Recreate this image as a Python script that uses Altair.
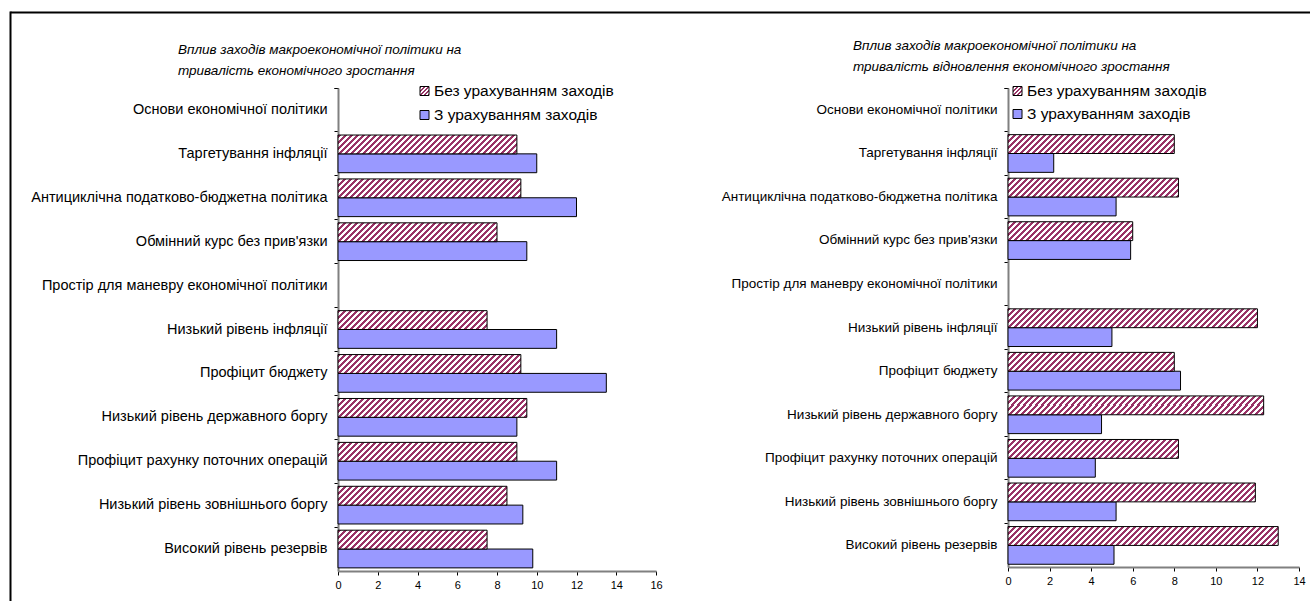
import altair as alt
import pandas as pd

# ---- data -------------------------------------------------------------
categories = [
    "Основи економічної політики",
    "Таргетування інфляції",
    "Антициклічна податково-бюджетна політика",
    "Обмінний курс без прив'язки",
    "Простір для маневру економічної політики",
    "Низький рівень інфляції",
    "Профіцит бюджету",
    "Низький рівень державного боргу",
    "Профіцит рахунку поточних операцій",
    "Низький рівень зовнішнього боргу",
    "Високий рівень резервів",
]
series = ["Без урахуванням заходів", "З урахуванням заходів"]

growth_without = [None, 9.0, 9.2, 8.0, None, 7.5, 9.2, 9.5, 9.0, 8.5, 7.5]
growth_with = [None, 10.0, 12.0, 9.5, None, 11.0, 13.5, 9.0, 11.0, 9.3, 9.8]
recovery_without = [None, 8.0, 8.2, 6.0, None, 12.0, 8.0, 12.3, 8.2, 11.9, 13.0]
recovery_with = [None, 2.2, 5.2, 5.9, None, 5.0, 8.3, 4.5, 4.2, 5.2, 5.1]

growth_title = ["Вплив заходів макроекономічної політики на",
                "тривалість економічного зростання"]
recovery_title = ["Вплив заходів макроекономічної політики на",
                  "тривалість відновлення економічного зростання"]
growth_ticks = list(range(0, 17, 2))
recovery_ticks = list(range(0, 15, 2))

FONT = "Liberation Sans"
INK = "#993366"
BLUE = "#9999FF"
PAD_OUTER = 0.165


def hatch(w, h, period=6.0):
    """Linear gradient with hard stops drawing '/' stripes at 45 degrees
    over a w x h rectangle (gradient is in bounding-box units)."""
    k = (w + h) / (w * w + h * h)
    n = (w + h) / period
    stops = []
    i = 0
    while i < n:
        a = i / n
        b = min((i + 0.5) / n, 1.0)
        c = min((i + 1) / n, 1.0)
        stops += [
            {"offset": a, "color": INK},
            {"offset": b, "color": INK},
            {"offset": b, "color": "#ffffff"},
            {"offset": c, "color": "#ffffff"},
        ]
        i += 1
    return {"gradient": "linear", "x1": 0, "y1": 0,
            "x2": w * k, "y2": h * k, "stops": stops}


def text_layer(txt, x, y, size, italic=False):
    return alt.Chart(alt.Data(values=[{}])).mark_text(
        text=txt, align="left", baseline="middle", font=FONT,
        fontSize=size, fontStyle="italic" if italic else "normal",
        color="#000000",
    ).encode(x=alt.value(x), y=alt.value(y))


def panel(without, with_, xmax, ticks, width, height, title_lines,
          title_x, title_y, leg_x, leg_y, leg_gap, label_size, legend_size,
          title_size, frame=False):
    rows = []
    for cat, a, b in zip(categories, without, with_):
        if a is not None:
            rows.append({"category": cat, "series": series[0], "value": a})
        if b is not None:
            rows.append({"category": cat, "series": series[1], "value": b})
    df = pd.DataFrame(rows)

    step = height / len(categories)
    bar_h = step / (2 + 2 * PAD_OUTER)
    sx = width / xmax

    y = alt.Y(
        "category:N", sort=categories,
        scale=alt.Scale(domain=categories, paddingInner=0, paddingOuter=0),
        axis=alt.Axis(
            title=None, bandPosition=0, tickExtra=True, tickSize=4,
            tickColor="#000000", tickWidth=1, domainColor="#808080",
            domainWidth=2, labelFont=FONT, labelFontSize=label_size,
            labelColor="#000000", labelPadding=7, labelLimit=500,
        ),
    )
    yo = alt.YOffset(
        "series:N",
        scale=alt.Scale(domain=series, paddingInner=0, paddingOuter=PAD_OUTER),
    )
    x = alt.X(
        "value:Q", scale=alt.Scale(domain=[0, xmax], nice=False, zero=True),
        axis=alt.Axis(
            title=None, values=ticks, tickSize=4, tickColor="#000000",
            domainColor="#808080", domainWidth=2, grid=False,
            labelFont=FONT, labelFontSize=11, labelColor="#000000",
            labelPadding=4, labelFlush=False,
        ),
    )
    base = alt.Chart(df).encode(x=x, y=y, yOffset=yo)

    layers = [
        base.transform_filter(alt.FieldEqualPredicate(field="series", equal=series[1]))
        .mark_bar(fill=BLUE, stroke="#000000", strokeWidth=1)
    ]
    for cat, a in zip(categories, without):
        if a is None:
            continue
        layers.append(
            base.transform_filter(alt.FieldEqualPredicate(field="series", equal=series[0]))
            .transform_filter(alt.FieldEqualPredicate(field="category", equal=cat))
            .mark_bar(fill=hatch(a * sx, bar_h), stroke="#000000", strokeWidth=1)
        )

    # titles
    layers.append(text_layer(title_lines[0], title_x, title_y, title_size, True))
    layers.append(text_layer(title_lines[1], title_x, title_y + 21, title_size, True))

    # legend
    sq = 9
    for j, (yy, fill) in enumerate([(leg_y, hatch(sq, sq, 4.0)),
                                     (leg_y + leg_gap, BLUE)]):
        layers.append(
            alt.Chart(alt.Data(values=[{}])).mark_rect(
                fill=fill, stroke="#000000", strokeWidth=1
            ).encode(x=alt.value(leg_x), x2=alt.value(leg_x + sq),
                     y=alt.value(yy - sq / 2), y2=alt.value(yy + sq / 2))
        )
        layers.append(text_layer(series[j], leg_x + 14, yy, legend_size))

    if frame:
        # page frame around both diagrams
        layers.append(
            alt.Chart(alt.Data(values=[{}])).mark_rule(color="#000000", strokeWidth=2)
            .encode(x=alt.value(-327.5), x2=alt.value(972), y=alt.value(-75.5))
        )
        layers.append(
            alt.Chart(alt.Data(values=[{}])).mark_rule(color="#000000", strokeWidth=2)
            .encode(x=alt.value(-327.5), y=alt.value(-76.5), y2=alt.value(513))
        )

    return alt.layer(*layers).properties(width=width, height=height)


left = panel(growth_without, growth_with, 16, growth_ticks, 318, 483,
             growth_title, -160, -38, 82, 3, 24, 14.5, 15.5, 13.5, frame=True)
right = panel(recovery_without, recovery_with, 14, recovery_ticks, 291, 479,
              recovery_title, -155, -42, 5, 3, 23, 13.5, 15.5, 13.5)

chart = (
    alt.hconcat(left, right, spacing=352, bounds="flush")
    .properties(
        padding={"left": 9, "top": 10, "right": 0, "bottom": 0},
        autosize=alt.AutoSizeParams(type="pad"),
        background="#ffffff",
    )
    .configure_view(stroke=None)
)

chart.save("out.html", embed_options={"renderer": "svg", "actions": False})
